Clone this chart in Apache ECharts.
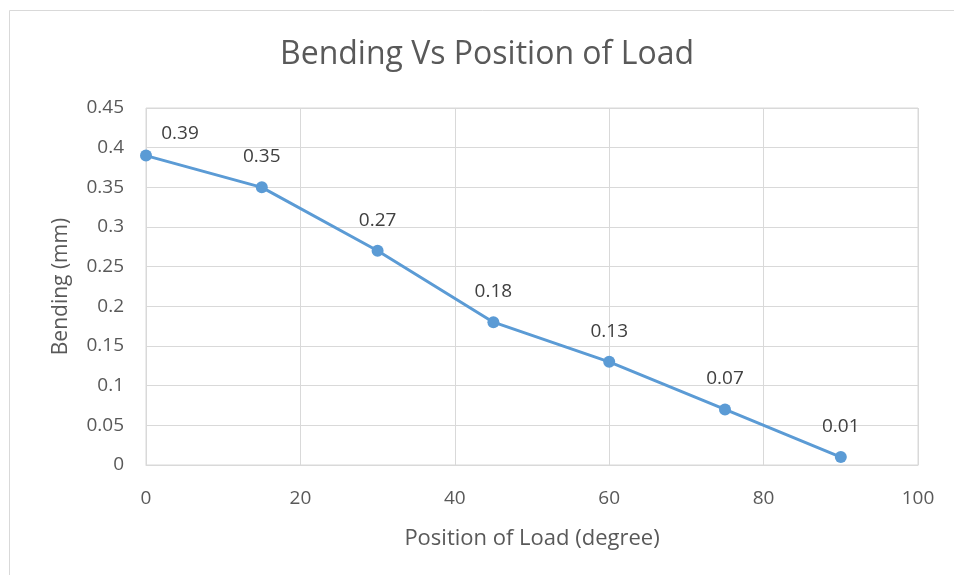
<!DOCTYPE html>
<html><head><meta charset="utf-8">
<script src="https://cdn.jsdelivr.net/npm/echarts@6/dist/echarts.min.js"></script>
<style>html,body{margin:0;padding:0;background:#fff}#c{width:954px;height:575px}</style>
</head><body><div id="c"></div>
<script>
const positions = [0, 15, 30, 45, 60, 75, 90];
const bending = [0.39, 0.35, 0.27, 0.18, 0.13, 0.07, 0.01];
const titleText = 'Bending Vs Position of Load';
const xName = 'Position of Load (degree)';
const yName = 'Bending (mm)';
const FONT = 'Open Sans';
const chart = echarts.init(document.getElementById('c'));
chart.setOption({
  animation: false,
  textStyle: {fontFamily: FONT},
  graphic: [{type: 'rect', shape: {x: 9.5, y: 10.5, width: 960, height: 600}, style: {fill: 'none', stroke: '#d9d9d9', lineWidth: 1}, silent: true}],
  title: {text: titleText, left: 482, textAlign: 'center', top: 34, textStyle: {fontFamily: FONT, fontSize: 32, fontWeight: 'normal', color: '#595959'}},
  grid: {left: 146, right: 36, top: 108, bottom: 110, show: true, borderColor: '#d9d9d9', borderWidth: 1},
  xAxis: {type: 'value', min: 0, max: 100, interval: 20, name: xName, nameLocation: 'middle', nameGap: 63,
    nameTextStyle: {fontFamily: FONT, fontSize: 22, color: '#595959'},
    axisLine: {show: true, lineStyle: {color: '#d9d9d9'}}, axisTick: {show: false},
    axisLabel: {fontFamily: FONT, fontSize: 19, color: '#595959', margin: 24},
    splitLine: {show: true, lineStyle: {color: '#d9d9d9'}}},
  yAxis: {type: 'value', min: 0, max: 0.45, interval: 0.05, name: yName, nameLocation: 'middle', nameGap: 74,
    nameTextStyle: {fontFamily: FONT, fontSize: 21, color: '#595959'},
    axisLine: {show: false}, axisTick: {show: false},
    axisLabel: {fontFamily: FONT, fontSize: 19, color: '#595959', margin: 22, formatter: v => String(+v.toFixed(2))},
    splitLine: {show: true, lineStyle: {color: '#d9d9d9'}}},
  series: [{type: 'line',
    data: positions.map((x, i) => i === 0
      ? {value: [x, bending[i]], label: {offset: [34, 8]}}
      : {value: [x, bending[i]]}),
    symbol: 'circle', symbolSize: 12, lineStyle: {color: '#5b9bd5', width: 3}, itemStyle: {color: '#5b9bd5'},
    label: {show: true, position: 'top', distance: 15, fontFamily: FONT, fontSize: 19, color: '#404040',
      formatter: p => p.value[1].toFixed(2)}}]
});
</script></body></html>
